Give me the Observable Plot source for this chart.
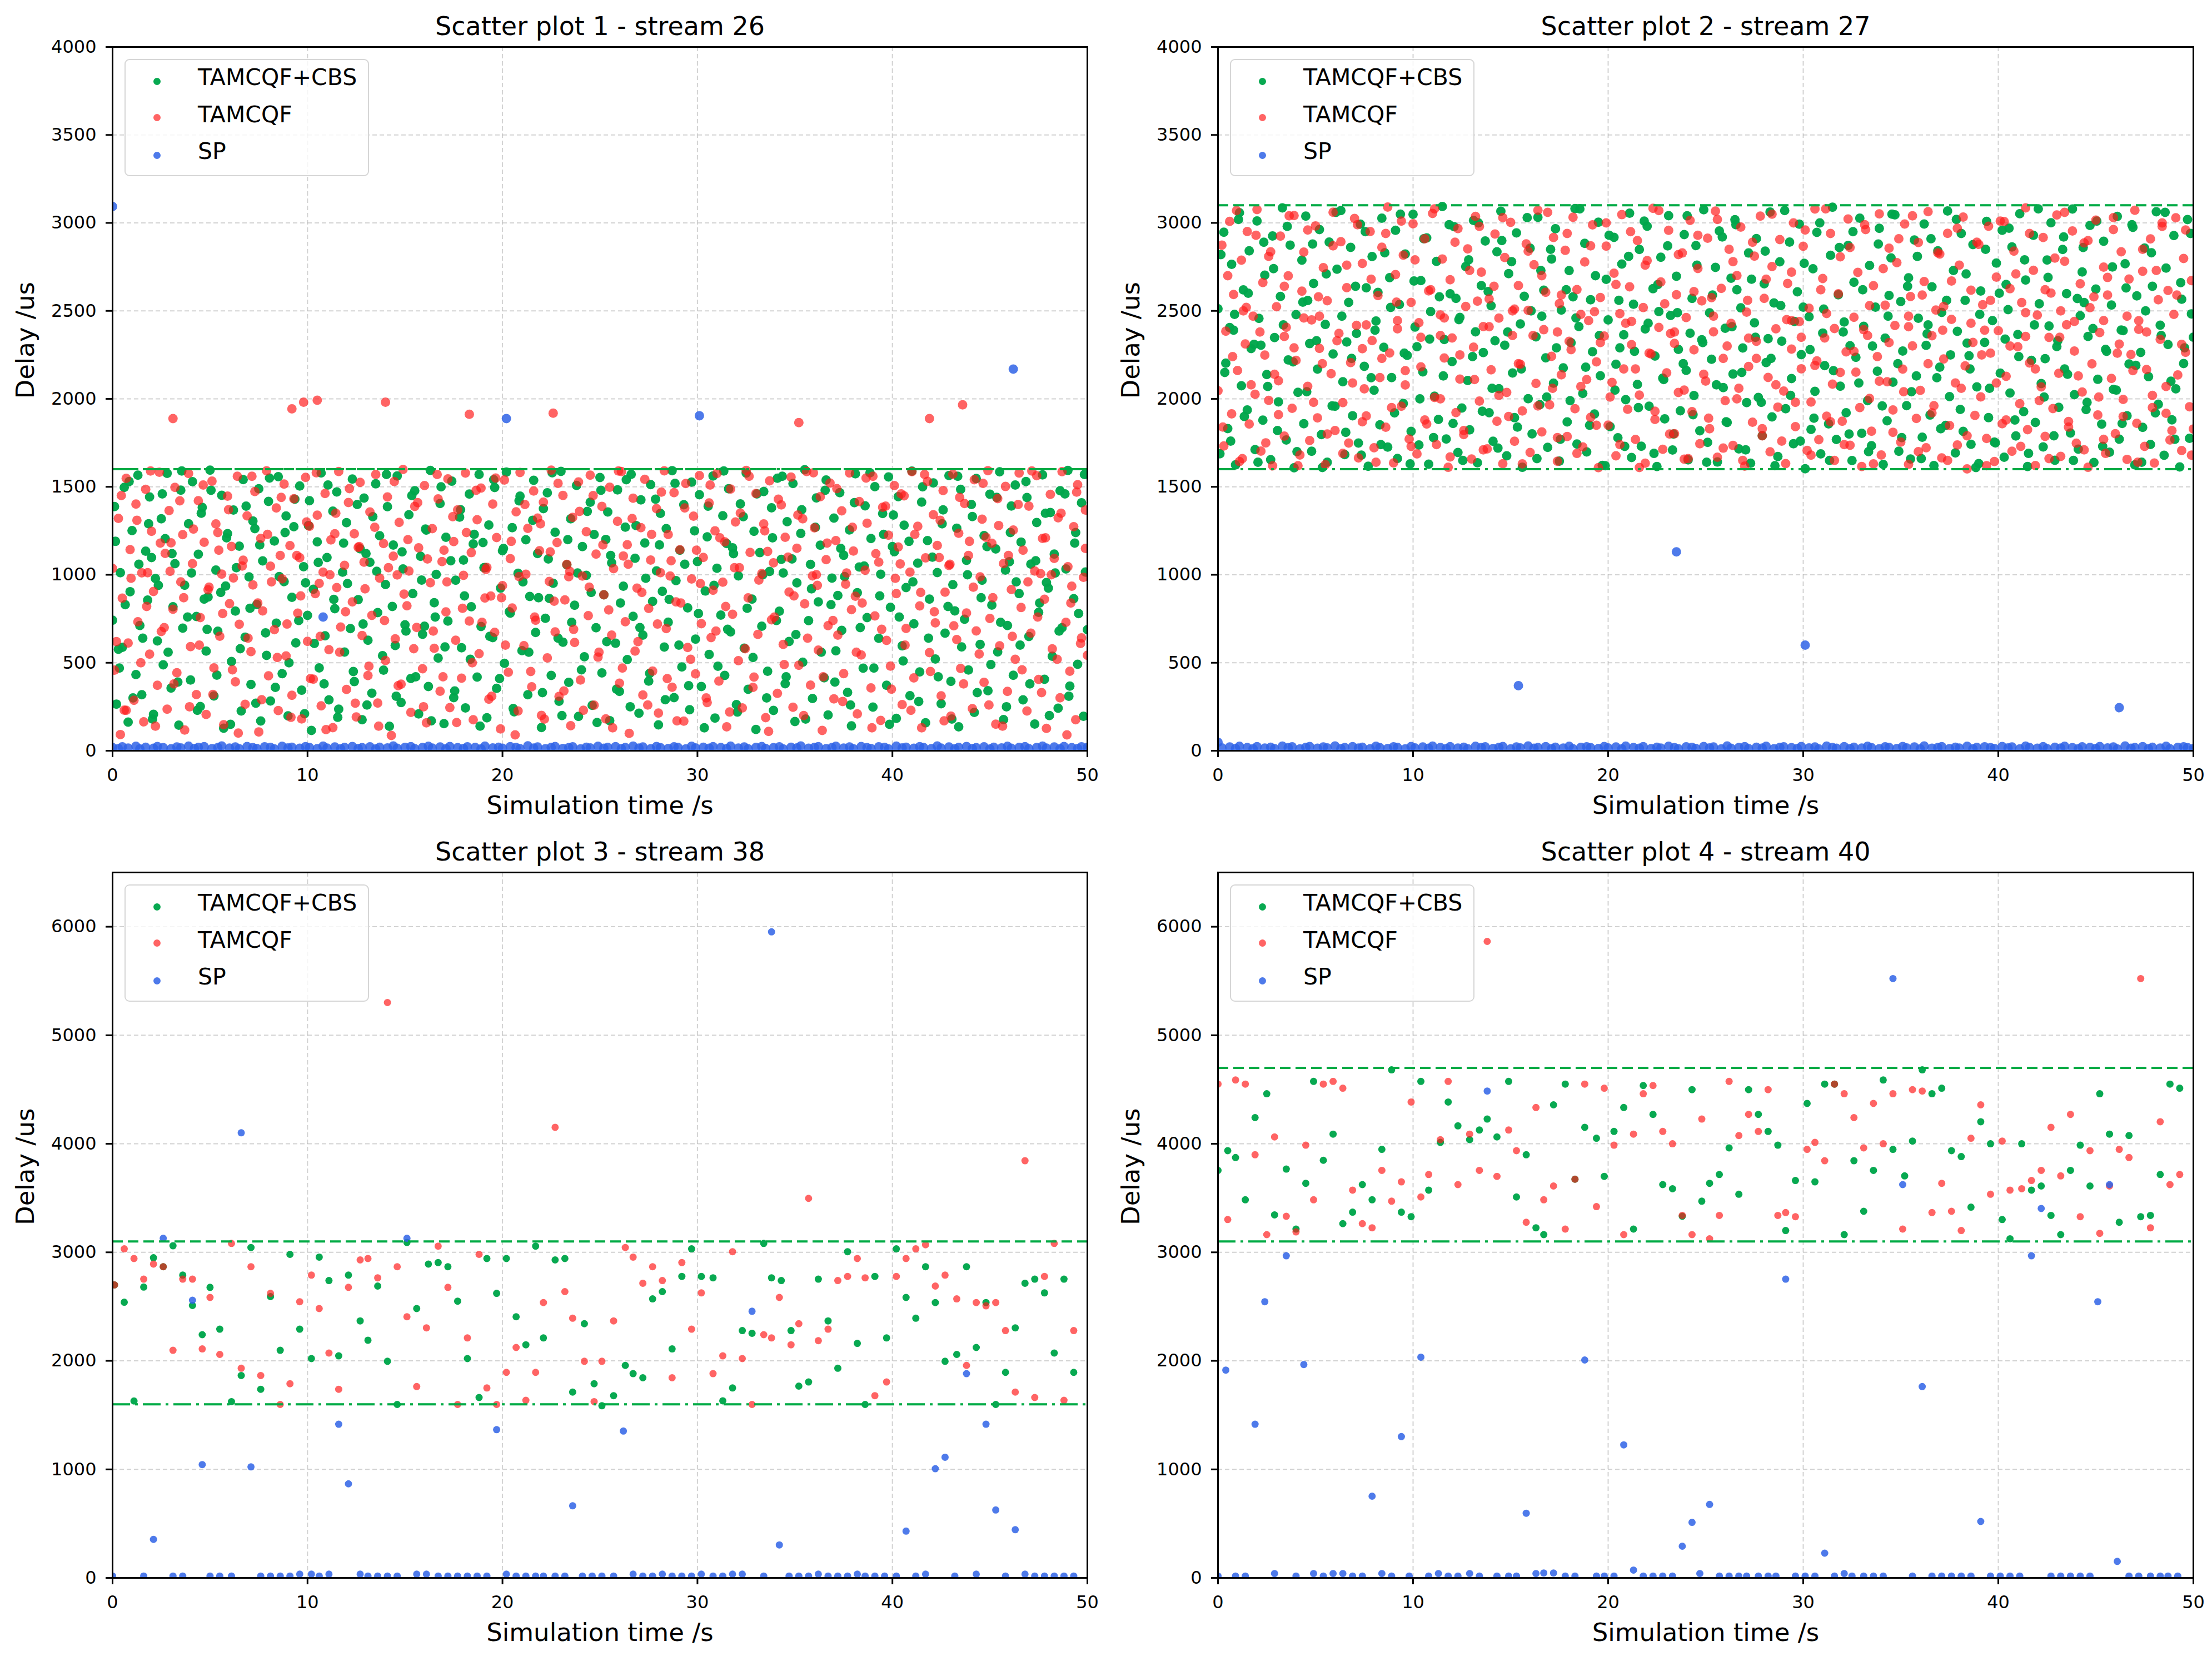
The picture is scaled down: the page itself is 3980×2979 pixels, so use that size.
<!DOCTYPE html>
<html><head><meta charset="utf-8">
<script src="https://cdn.jsdelivr.net/npm/d3@7"></script>
<script src="https://cdn.jsdelivr.net/npm/@observablehq/plot@0.6"></script>
<style>
html,body{margin:0;padding:0;background:#fff;}
#fig{position:relative;width:3980px;height:2979px;background:#fff;font-family:"DejaVu Sans",sans-serif;overflow:hidden;}
.panel{position:absolute;width:1990px;height:1489px;}
.legend{position:absolute;width:436px;height:207px;border:2px solid #d6d6d6;border-radius:9px;background:rgba(255,255,255,0.8);}
.legend .sw{position:absolute;width:13px;height:13px;border-radius:50%;}
.legend .lb{position:absolute;font-size:41px;line-height:41px;color:#000;white-space:nowrap;font-family:"DejaVu Sans",sans-serif;}
</style></head><body><div id="fig"></div>
<script>
// ---------- labels, ticks, series ----------
const seriesNames = ["TAMCQF+CBS", "TAMCQF", "SP"];
const titles = ["Scatter plot 1 - stream 26", "Scatter plot 2 - stream 27", "Scatter plot 3 - stream 38", "Scatter plot 4 - stream 40"];
const xLabel = "Simulation time /s";
const yLabel = "Delay /us";
const xTicks = [0, 10, 20, 30, 40, 50];
const yTicksTop = [0, 500, 1000, 1500, 2000, 2500, 3000, 3500, 4000];
const yTicksBottom = [0, 1000, 2000, 3000, 4000, 5000, 6000];
const yMaxTop = 4000, yMaxBottom = 6500;
// bounds: [dashed upper line, dash-dot lower line]
const bounds1 = [1600, 1600];
const bounds2 = [3100, 1600];
const bounds3 = [3100, 1600];
const bounds4 = [4700, 3100];

// ---------- data: flat [time s, delay us, ...] ----------
const p1Green = [0.0,742,0.1,1388,0.2,265,0.4,1012,0.5,588,0.6,1497,0.8,163,0.9,904,1.0,1251,1.2,433,
1.3,1566,1.4,712,1.5,318,1.7,1134,1.8,856,1.9,1442,2.1,207,2.2,979,2.3,624,2.5,1318,
2.6,488,2.7,1205,2.8,1577,3.0,356,3.1,818,3.2,1063,3.4,145,3.5,1481,3.6,697,3.7,941,
3.9,1290,4.0,402,4.1,1529,4.3,763,4.4,1117,4.5,251,4.6,1383,4.8,566,4.9,874,5.0,1595,
5.2,311,5.3,1027,5.4,679,5.6,1452,5.7,128,5.8,936,5.9,1234,6.1,507,6.2,1368,6.3,794,
6.5,1163,6.6,226,6.7,1541,6.8,645,7.0,988,7.1,377,7.2,1306,7.4,831,7.5,1489,7.6,169,
7.7,1079,7.9,542,8.0,1417,8.1,283,8.3,1192,8.4,725,8.5,1558,8.7,438,8.8,961,8.9,1334,
9.0,198,9.2,872,9.3,1273,9.4,613,9.6,1505,9.7,344,9.8,1046,10.0,769,10.1,1421,10.2,115,
10.3,918,10.5,1187,10.6,471,10.7,1579,10.9,653,11.0,1098,11.1,289,11.3,1362,11.4,807,11.5,1471,
11.6,236,11.8,1015,11.9,561,12.0,1296,12.2,694,12.3,1544,12.4,393,12.6,859,12.7,1148,12.8,176,
12.9,1436,13.1,628,13.2,1071,13.3,327,13.5,1517,13.6,785,13.7,1222,13.9,458,14.0,945,14.1,1387,
14.2,139,14.4,1169,14.5,598,14.6,1562,14.8,274,14.9,1033,15.0,716,15.2,1341,15.3,411,15.4,893,
15.5,1478,15.7,209,15.8,1105,15.9,662,16.1,1254,16.2,365,16.3,1593,16.5,841,16.6,1002,16.7,527,
16.8,1405,17.0,154,17.1,1213,17.2,737,17.4,1532,17.5,302,17.6,969,17.8,1328,17.9,585,18.0,1084,
18.1,243,18.3,1459,18.4,818,18.5,1175,18.7,419,18.8,1570,18.9,706,19.1,1041,19.2,187,19.3,1283,
19.5,643,19.6,1496,19.7,355,19.9,924,20.0,1137,20.1,497,20.2,1584,20.4,782,20.5,1268,20.6,221,
20.8,1009,20.9,1447,21.0,569,21.2,1199,21.3,318,21.4,877,21.6,1537,21.7,672,21.8,1121,22.0,132,
22.1,1376,22.2,753,22.3,1466,22.5,428,22.6,952,22.7,1242,22.9,281,23.0,1588,23.1,617,23.3,1057,
23.4,389,23.5,1318,23.7,827,23.8,1508,23.9,195,24.1,1160,24.2,534,24.3,997,24.5,1412,24.6,258,
24.7,1229,24.8,699,25.0,1553,25.1,442,25.2,886,25.4,1357,25.5,171,25.6,1068,25.8,611,25.9,1483,
26.0,337,26.2,935,26.3,1271,26.4,518,26.6,1571,26.7,764,26.8,1094,27.0,213,27.1,1426,27.2,657,
27.3,1181,27.5,396,27.6,1513,27.7,848,27.9,1022,28.0,147,28.1,1349,28.3,589,28.4,1262,28.5,731,
28.7,1592,28.8,302,28.9,967,29.1,1140,29.2,476,29.3,1398,29.5,812,29.6,233,29.7,1527,29.9,634,
30.0,1075,30.1,1455,30.2,365,30.4,908,30.5,1216,30.6,547,30.8,1562,30.9,186,31.0,1037,31.2,771,
31.3,1336,31.4,428,31.6,1489,31.7,675,31.8,1153,32.0,262,32.1,994,32.2,1403,32.4,583,32.5,1578,
32.6,349,32.8,862,32.9,1247,33.0,121,33.2,1126,33.3,708,33.4,1473,33.6,452,33.7,1019,33.8,1381,
33.9,229,34.1,1549,34.2,793,34.3,1088,34.5,381,34.6,1302,34.7,621,34.9,1519,35.0,166,35.1,954,
35.3,1235,35.4,503,35.5,1597,35.7,739,35.8,1059,35.9,297,36.1,1437,36.2,846,36.3,1168,36.5,415,
36.6,1539,36.7,203,36.9,981,37.0,1322,37.1,568,37.3,1467,37.4,684,37.5,1111,37.7,332,37.8,1255,
37.9,141,38.1,1574,38.2,898,38.3,1044,38.5,469,38.6,1392,38.7,757,38.9,1206,39.0,248,39.1,1501,
39.3,639,39.4,1003,39.5,1348,39.7,372,39.8,1556,39.9,815,40.1,1131,40.2,184,40.3,1444,40.5,596,
40.6,1282,40.7,927,40.9,313,41.0,1589,41.1,721,41.3,1066,41.4,448,41.5,1413,41.7,159,41.8,1194,
41.9,862,42.1,1522,42.2,521,42.3,1013,42.5,267,42.6,1369,42.7,668,42.9,1564,43.0,394,43.1,944,
43.3,1265,43.4,136,43.5,1486,43.7,747,43.8,1082,43.9,459,44.1,1331,44.2,218,44.3,1547,44.5,604,
44.6,969,44.7,1223,44.9,341,45.0,1458,45.1,828,45.3,1147,45.4,562,45.5,1585,45.7,177,45.8,1027,
45.9,712,46.1,1391,46.2,429,46.3,1510,46.5,893,46.6,1186,46.7,289,46.9,1439,47.0,649,47.1,1061,
47.3,152,47.4,1297,47.5,787,47.7,1568,47.8,406,47.9,956,48.1,1354,48.2,537,48.3,1118,48.5,242,
48.6,1478,48.7,699,48.9,1033,49.0,1593,49.1,367,49.3,864,49.4,1240,49.5,491,49.7,1409,49.8,196,
49.9,1016,0.3,577,2.0,1098,4.7,862,7.3,1262,9.9,954,13.0,1121,16.0,708,19.0,1183,22.4,866,
25.3,1201,28.2,906,31.5,1178,34.4,1010,37.2,882,40.0,1160,43.2,795,46.0,1074,48.0,924,50.0,688];
const p1GreenMore = [0.15,1190,0.35,470,0.65,830,0.85,1530,1.05,300,1.35,1060,1.55,640,1.85,1290,2.05,180,2.35,940,
2.55,1460,2.85,560,3.05,1120,3.35,390,3.55,1590,3.85,760,4.05,1010,4.35,230,4.55,1350,4.85,690,
5.05,1480,5.35,430,5.55,900,5.85,1210,6.05,150,6.35,1040,6.55,580,6.85,1390,7.05,810,7.35,270,
7.55,1170,7.85,670,8.05,1550,8.35,360,8.55,990,8.85,1240,9.05,500,9.35,1430,9.55,740,9.85,210,
10.05,1280,10.35,610,10.55,1070,10.85,380,11.05,1510,11.35,860,11.55,190,11.85,1180,12.05,950,12.35,450,
12.55,1400,12.85,720,13.05,260,13.35,1330,13.55,1020,13.85,540,14.05,1570,14.35,820,14.55,310,14.85,1130,
15.05,680,15.35,1450,15.55,420,15.85,970,16.05,1260,16.35,170,16.55,760,16.85,1500,17.05,590,17.35,1080,
17.55,340,17.85,1370,18.05,880,18.35,520,18.55,1230,18.85,140,19.05,1040,19.35,650,19.55,1540,19.85,410,
20.05,1150,20.35,790,20.55,240,20.85,1420,21.05,960,21.35,560,21.55,1310,21.85,870,22.05,330,22.35,1090,
22.55,1580,22.85,640,23.05,200,23.35,1200,23.55,730,23.85,1010,24.05,460,24.35,1360,24.55,900,24.85,160,
25.05,1480,25.35,620,25.55,1110,25.85,350,26.05,840,26.35,1540,26.55,250,26.85,1280,27.05,700,27.35,980,
27.55,440,27.85,1430,28.05,1170,28.35,290,28.55,860,28.85,1520,29.05,600,29.35,1060,29.55,370,29.85,1250,
30.05,780,30.35,130,30.55,1390,30.85,940,31.05,480,31.35,1590,31.55,690,31.85,1120,32.05,220,32.35,1330,
32.55,810,32.85,530,33.05,1460,33.35,1000,33.55,300,33.85,1210,34.05,740,34.35,1560,34.55,420,34.85,1090,
35.05,660,35.35,1370,35.55,180,35.85,920,36.05,1270,36.35,560,36.55,1480,36.85,830,37.05,390,37.35,1150,
37.55,990,37.85,260,38.05,1410,38.35,700,38.55,1050,38.85,1580,39.05,470,39.35,880,39.55,1230,39.85,150,
40.05,1340,40.35,760,40.55,510,40.85,1190,41.05,960,41.35,280,41.55,1500,41.85,640,42.05,1100,42.35,420,
42.55,1290,42.85,820,43.05,180,43.35,1560,43.55,590,43.85,1000,44.05,1400,44.35,330,44.55,870,44.85,1160,
45.05,490,45.35,1440,45.55,730,45.85,250,46.05,1240,46.35,960,46.55,600,46.85,1530,47.05,380,47.35,1080,
47.55,840,47.85,1350,48.05,200,48.35,1010,48.55,680,48.85,1460,49.05,310,49.35,1180,49.55,780,49.85,1570];

const p1Red = [0.0,1036,0.1,458,0.3,1321,0.4,92,0.5,867,0.7,1548,0.8,612,0.9,1143,1.1,287,1.2,1402,
1.3,733,1.5,1011,1.6,164,1.7,1486,1.9,549,2.0,1247,2.1,905,2.3,372,2.4,1583,2.5,678,
2.7,1122,2.8,236,2.9,1365,3.1,804,3.2,1497,3.3,443,3.5,960,3.6,1228,3.7,118,3.9,1576,
4.0,592,4.1,1063,4.3,319,4.4,1421,4.5,757,4.7,1185,4.8,206,4.9,915,5.1,1532,5.2,471,
5.3,1289,5.5,651,5.6,1004,5.7,148,5.9,1447,6.0,836,6.1,1161,6.3,392,6.4,1560,6.5,719,
6.7,1083,6.8,264,6.9,1335,7.1,563,7.2,942,7.3,1473,7.5,107,7.6,1207,7.7,795,7.9,1591,
8.0,426,8.1,1049,8.3,688,8.4,1380,8.5,228,8.7,977,8.8,1516,8.9,539,9.1,1166,9.2,315,
9.3,1432,9.5,782,9.6,1097,9.7,181,9.9,1554,10.0,622,10.1,1276,10.3,407,10.4,893,10.5,1339,
10.7,255,10.8,1015,10.9,1462,11.1,574,11.2,1198,11.3,131,11.5,927,11.6,1587,11.7,703,11.9,1054,
12.0,348,12.1,1411,12.3,846,12.4,1233,12.5,192,12.7,1525,12.8,655,12.9,1072,13.1,427,13.2,1357,
13.3,769,13.5,1570,13.6,271,13.7,981,13.9,1178,14.0,513,14.1,1442,14.3,87,14.4,1106,14.5,636,
14.7,1298,14.8,378,14.9,1599,15.1,824,15.2,1021,15.3,218,15.5,1389,15.6,701,15.7,1153,15.9,466,
16.0,1507,16.1,159,16.3,955,16.4,1262,16.5,582,16.7,1431,16.8,338,16.9,1075,17.1,789,17.2,1545,
17.3,245,17.5,1189,17.6,628,17.7,1369,17.9,412,18.0,997,18.1,1578,18.3,737,18.4,1126,18.5,176,
18.7,1313,18.8,551,18.9,1493,19.1,868,19.2,1042,19.3,293,19.5,1402,19.6,673,19.7,1212,19.9,124,
20.0,938,20.1,1539,20.3,446,20.4,1092,20.5,811,20.7,1358,20.8,226,20.9,1581,21.1,597,21.2,1003,
21.3,1264,21.5,363,21.6,1476,21.7,742,21.9,1137,22.0,201,22.1,1413,22.3,528,22.4,962,22.5,1595,
22.7,675,22.8,1183,22.9,309,23.1,1451,23.2,857,23.3,1059,23.5,142,23.6,1326,23.7,615,23.9,1528,
24.0,402,24.1,993,24.3,1245,24.4,768,24.5,1566,24.7,259,24.8,1118,24.9,532,25.1,1389,25.2,886,
25.3,181,25.5,1498,25.6,657,25.7,1035,25.9,1304,26.0,384,26.1,1587,26.3,733,26.4,1171,26.5,99,
26.7,1435,26.8,566,26.9,924,27.1,1268,27.2,317,27.3,1543,27.5,809,27.6,1084,27.7,453,27.9,1376,
28.0,214,28.1,1012,28.3,1591,28.4,694,28.5,1229,28.7,361,28.8,1467,28.9,846,29.1,1142,29.3,168,
29.4,1519,29.5,587,29.7,976,29.8,1333,29.9,437,30.1,1564,30.2,722,30.3,1099,30.5,274,30.6,1408,
30.7,643,30.9,1250,31.0,1576,31.1,396,31.3,958,31.4,1187,31.5,136,31.7,1487,31.8,776,31.9,1040,
32.1,512,32.2,1351,32.3,243,32.5,1593,32.6,869,32.7,1127,32.9,419,33.0,1462,33.1,661,33.3,1007,
33.4,1289,33.5,188,33.7,1534,33.8,744,33.9,1068,34.1,326,34.3,1397,34.4,604,34.5,1213,34.7,902,
34.8,1555,34.9,247,35.1,1151,35.2,486,35.4,1318,35.5,835,35.6,1587,35.8,373,35.9,994,36.0,1267,
36.2,572,36.3,1444,36.4,115,36.6,1086,36.7,711,36.8,1521,37.0,295,37.1,1194,37.2,657,37.4,1363,
37.5,438,37.6,947,37.8,1579,37.9,802,38.0,1135,38.2,209,38.3,1416,38.4,544,38.6,1026,38.7,1293,
38.9,357,39.0,1560,39.1,766,39.3,1072,39.4,172,39.5,1384,39.7,627,39.8,1225,39.9,481,40.1,1507,
40.2,893,40.3,1158,40.5,262,40.6,1449,40.7,695,40.9,1015,41.0,1586,41.1,414,41.3,1276,41.4,823,
41.5,130,41.7,1096,41.8,1531,41.9,558,42.1,1341,42.2,727,42.3,1167,42.5,312,42.6,1479,42.7,901,
42.9,1053,43.0,197,43.1,1572,43.3,632,43.4,1236,43.5,468,43.7,1405,43.8,783,43.9,1110,44.1,239,
44.2,1540,44.3,681,44.5,988,44.6,1316,44.7,389,44.9,1592,45.0,752,45.1,1179,45.3,151,45.4,1433,
45.5,596,45.7,1064,45.8,1502,45.9,337,46.1,916,46.2,1254,46.3,520,46.5,1578,46.6,814,46.7,1140,
46.9,226,47.0,1390,47.1,668,47.3,1021,47.4,1563,47.5,405,47.7,1207,47.8,861,47.9,127,48.1,1457,
48.2,579,48.3,1093,48.5,1324,48.6,301,48.7,1586,48.9,730,49.0,1046,49.1,452,49.3,1273,49.4,176,
49.5,1512,49.7,641,49.8,986,49.9,1368,50.0,543,0.6,231,1.8,1012,3.0,1182,5.4,1240,6.2,982,
8.6,1110,10.6,951,12.6,1156,14.6,999,17.0,1140,19.4,879,21.8,1322,23.4,989,26.2,1107,28.6,993,
30.8,912,33.6,1133,36.1,1001,38.1,878,40.4,1062,42.4,1098,44.8,1213,47.6,1006,49.2,935,11.4,1233,
3.1,1888,9.2,1943,9.8,1981,10.5,1992,14.0,1981,18.3,1912,22.6,1919,35.2,1865,41.9,1888,43.6,1966];
const p1RedMore = [0.2,620,0.45,1450,0.7,230,0.95,980,1.25,1310,1.45,500,1.75,820,1.95,1590,2.2,140,2.45,1180,
2.65,700,2.95,1020,3.15,380,3.45,1420,3.65,870,3.95,250,4.15,1260,4.45,600,4.65,1510,4.95,930,
5.15,320,5.45,1140,5.65,780,5.95,1370,6.15,460,6.45,100,6.65,1050,6.95,640,7.15,1560,7.45,840,
7.65,290,7.95,1230,8.15,960,8.45,530,8.65,1440,8.95,720,9.15,190,9.45,1110,9.65,880,9.95,1300,
10.15,410,10.45,1580,10.65,650,10.95,120,11.15,1000,11.45,1350,11.65,560,11.95,790,12.15,1490,12.45,270,
12.65,1160,12.95,920,13.15,480,13.45,1270,13.65,140,13.95,740,14.15,1040,14.45,1530,14.65,370,14.95,890,
15.15,1200,15.45,580,15.65,1410,15.95,250,16.15,1090,16.45,680,16.65,1570,16.95,420,17.15,960,17.45,1330,
17.65,160,17.95,810,18.15,1240,18.45,500,18.65,1480,18.95,730,19.15,1030,19.45,310,19.65,1550,19.95,870,
20.15,600,20.45,1190,20.65,90,20.85,990,21.15,1400,21.45,450,21.65,760,21.95,1290,22.15,180,22.45,1130,
22.65,850,22.85,1520,23.15,340,23.45,1020,23.65,690,23.95,1360,24.15,230,24.45,930,24.65,1450,24.95,560,
25.15,1170,25.45,800,25.65,130,25.95,1590,26.15,470,26.45,1060,26.65,1320,26.95,620,27.15,900,27.45,260,
27.65,1230,27.95,720,28.15,1470,28.45,410,28.65,1080,28.95,170,29.15,840,29.35,1380,29.65,520,29.95,1140,
30.15,950,30.45,300,30.65,1510,30.95,680,31.15,1210,31.45,820,31.65,220,31.95,1300,32.15,1040,32.45,580,
32.65,1560,32.85,360,33.15,970,33.45,1250,33.65,110,33.95,760,34.15,1430,34.45,490,34.65,1100,34.95,880,
35.15,1340,35.45,200,35.65,640,35.95,1580,36.15,940,36.45,420,36.65,1180,36.95,740,37.15,1490,37.45,280,
37.65,1010,37.95,1270,38.15,560,38.45,840,38.65,1550,38.95,130,39.15,1120,39.45,690,39.65,1390,39.95,350,
40.15,980,40.45,1460,40.65,600,40.95,230,41.15,1230,41.45,900,41.65,1570,41.95,450,42.15,790,42.45,1310,
42.65,170,42.95,1060,43.15,710,43.45,1440,43.65,380,43.95,1190,44.15,930,44.45,550,44.65,1520,44.95,260,
45.15,870,45.45,1280,45.65,140,45.95,1110,46.15,650,46.45,1400,46.65,460,46.95,960,47.15,1590,47.45,760,
47.65,330,47.85,1210,48.15,1000,48.45,520,48.65,1350,48.95,90,49.15,840,49.45,1470,49.65,610,49.9,1150];

const p1Blue = [0.0,3093,10.8,760,20.2,1888,30.1,1904,46.2,2169,
0.0,18,0.3,12,0.5,22,0.8,15,1.2,25,1.4,10,1.7,20,2.1,14,2.3,24,2.6,17,3.0,11,3.3,21,3.5,16,3.9,26,4.2,13,4.4,19,4.7,23,5.1,12,5.4,18,5.6,27,
6.0,15,6.3,21,6.5,11,6.9,24,7.2,17,7.4,13,7.8,22,8.1,19,8.3,10,8.7,25,9.0,16,9.2,20,9.6,14,9.9,23,10.1,18,10.5,12,10.8,26,11.0,15,11.4,21,11.7,11,
11.9,19,12.3,24,12.6,13,12.8,17,13.2,22,13.5,10,13.7,20,14.1,16,14.4,27,14.6,14,15.0,19,15.3,23,15.5,12,15.9,18,16.2,25,16.4,15,16.8,21,17.1,11,17.3,24,17.7,17,
18.0,13,18.2,22,18.6,19,18.9,10,19.1,26,19.5,16,19.8,20,20.0,14,20.4,23,20.7,18,20.9,12,21.3,28,21.6,15,21.8,21,22.2,11,22.5,19,22.7,24,23.1,13,23.4,17,23.6,22,
24.0,10,24.3,20,24.5,16,24.9,25,25.2,14,25.4,19,25.8,23,26.1,12,26.3,18,26.7,26,27.0,15,27.2,21,27.6,11,27.9,24,28.1,17,28.5,13,28.8,22,29.0,19,29.4,10,29.7,25,
29.9,16,30.3,20,30.6,14,30.8,23,31.2,18,31.5,12,31.7,26,32.1,15,32.4,21,32.6,11,33.0,19,33.3,24,33.5,13,33.9,17,34.2,22,34.4,10,34.8,20,35.1,16,35.3,27,35.7,14,
36.0,19,36.2,23,36.6,12,36.9,18,37.1,25,37.5,15,37.8,21,38.0,11,38.4,24,38.7,17,38.9,13,39.3,22,39.6,19,39.8,10,40.2,26,40.5,16,40.7,20,41.1,14,41.4,23,41.6,18,
42.0,12,42.3,27,42.5,15,42.9,21,43.2,11,43.4,19,43.8,24,44.1,13,44.3,17,44.7,22,45.0,10,45.2,20,45.6,16,45.9,25,46.1,14,46.5,19,46.8,23,47.0,12,47.4,18,47.7,26,
47.9,15,48.3,21,48.6,11,48.8,24,49.2,17,49.5,13,49.7,22,50.0,19];

const p2Green = [0.0,2512,0.1,1688,0.3,2947,0.4,2203,0.5,1831,0.7,2765,0.8,2390,0.9,1625,1.1,3058,1.2,2074,
1.3,2619,1.5,1937,1.6,2841,1.7,2286,1.9,1712,2.0,3011,2.1,2457,2.3,1879,2.4,2703,2.5,2138,
2.7,1654,2.8,2926,2.9,2348,3.1,1983,3.2,2582,3.3,3085,3.5,1766,3.6,2221,3.7,2874,3.9,1608,
4.0,2479,4.1,2037,4.3,2788,4.4,1859,4.5,3039,4.7,2314,4.8,1702,4.9,2656,5.1,2169,5.2,2962,
5.3,1797,5.5,2423,5.6,1640,5.7,2891,5.9,2255,6.0,1958,6.1,2737,6.3,3070,6.4,2097,6.5,1683,
6.7,2548,6.8,2861,6.9,1904,7.1,2372,7.2,1749,7.3,2993,7.5,2185,7.6,2631,7.7,1617,7.9,2809,
8.0,2049,8.1,2442,8.3,1852,8.4,3027,8.5,2293,8.7,1726,8.8,2689,8.9,2121,9.1,2958,9.2,1661,
9.3,2536,9.5,1974,9.6,2823,9.7,2247,9.9,1815,10.0,3049,10.1,2408,10.3,1738,10.4,2672,10.5,2153,
10.7,2915,10.8,1629,10.9,2496,11.1,2015,11.2,2781,11.3,1883,11.5,3093,11.6,2337,11.7,1772,11.9,2597,
12.0,2212,12.1,2979,12.3,1695,12.4,2463,12.5,1948,12.7,2752,12.8,2104,12.9,1824,13.1,3014,13.2,2381,
13.3,1637,13.5,2644,13.6,2263,13.7,2897,13.9,1921,14.0,2529,14.1,1759,14.3,2836,14.4,2058,14.5,3066,
14.7,2305,14.8,1676,14.9,2712,15.1,2147,15.2,1893,15.3,2943,15.5,2426,15.6,1611,15.7,2583,15.9,2001,
16.0,2856,16.1,1801,16.3,2352,16.4,3032,16.5,1967,16.7,2618,16.8,2233,16.9,1724,17.1,2795,17.2,2089,
17.3,2967,17.5,1646,17.6,2505,17.7,2176,17.9,1869,18.0,2729,18.1,2319,18.3,3081,18.4,1743,18.5,2411,
18.7,2031,18.8,2884,18.9,1698,19.1,2563,19.2,2268,19.3,1914,19.5,3004,19.6,2131,19.7,1622,19.9,2679,
20.0,2449,20.1,1842,20.3,2918,20.4,2197,20.5,1779,20.7,2766,20.8,2364,20.9,1995,21.1,3055,21.2,1667,
21.3,2538,21.5,2082,21.6,2849,21.7,1731,21.9,2397,22.0,2981,22.1,1958,22.3,2626,22.4,2243,22.5,1615,
22.7,2805,22.8,2118,22.9,1886,23.1,3041,23.2,2474,23.3,1709,23.5,2697,23.6,2281,23.7,1932,23.9,2934,
24.0,2162,24.1,1653,24.3,2571,24.4,2019,24.5,2871,24.7,1818,24.8,2336,24.9,3075,25.1,1753,25.2,2489,
25.3,2225,25.5,2747,25.6,1641,25.7,2954,25.9,2064,26.0,2401,26.1,1866,26.3,2686,26.4,2141,26.5,3018,
26.7,1716,26.8,2517,26.9,2289,27.1,1979,27.2,2829,27.3,1634,27.5,2432,27.6,2911,27.7,2008,27.9,1791,
28.0,2654,28.1,2206,28.3,3062,28.4,1897,28.5,2545,28.7,1672,28.8,2779,28.9,2328,29.1,1944,29.3,2891,
29.4,2115,29.5,1745,29.7,2608,29.8,2993,29.9,2251,30.1,1603,30.3,2467,30.4,1826,30.5,2739,30.6,2043,
30.7,2946,30.9,1687,31.0,2374,31.1,2189,31.3,1858,31.4,2816,31.5,3089,31.7,1769,31.8,2592,31.9,2072,
32.1,2437,32.2,1921,32.3,2872,32.5,1649,32.6,2663,32.7,2236,32.9,3027,33.0,1804,33.1,2412,33.3,1990,
33.4,2758,33.5,1734,33.7,2521,33.8,2157,33.9,2969,34.1,1627,34.2,2345,34.3,1875,34.5,2801,34.6,2095,
34.7,3046,34.9,1702,35.0,2553,35.1,2272,35.3,1961,35.4,2688,35.5,1658,35.7,2903,35.8,2130,35.9,2458,
36.1,1782,36.2,2994,36.3,2304,36.5,1908,36.6,2637,36.7,1621,36.9,2841,37.0,2180,37.1,2491,37.3,1849,
37.4,3068,37.5,2013,37.7,2730,37.8,1693,37.9,2384,38.1,2940,38.2,1815,38.3,2560,38.5,2245,38.6,1742,
38.7,2877,38.9,2068,39.0,1632,39.1,2613,39.3,2321,39.4,3009,39.5,1893,39.7,2445,39.8,1754,39.9,2772,
40.1,2146,40.2,2958,40.3,1668,40.5,2507,40.6,2033,40.7,2863,40.9,1789,41.0,2366,41.1,3052,41.3,1927,
41.4,2675,41.5,1615,41.7,2219,41.8,2930,41.9,1866,42.1,2540,42.2,2087,42.3,1727,42.5,2789,42.6,2414,
42.7,3001,42.9,1651,43.0,2297,43.1,1952,43.3,2849,43.4,2170,43.5,2598,43.7,1806,43.8,3079,43.9,2024,
44.1,1714,44.2,2472,44.3,2721,44.5,1939,44.6,2355,44.7,2986,44.9,1638,45.0,2624,45.1,2111,45.3,1856,
45.4,2896,45.5,2281,45.7,1697,45.8,2533,45.9,2054,46.1,3037,46.2,1771,46.3,2391,46.5,2768,46.6,1904,
46.7,2198,46.9,2975,47.0,1625,47.1,2585,47.3,2264,47.4,1838,47.5,2857,47.7,2126,47.8,1741,47.9,2640,
48.1,3063,48.2,1969,48.3,2419,48.5,1679,48.6,2743,48.7,2309,48.9,1881,49.0,2928,49.1,2057,49.3,1613,
49.4,2566,49.5,2201,49.7,3019,49.8,1776,49.9,2483,50.0,2351,0.6,2405,2.2,2305,4.6,2559,6.6,2323,
8.2,2605,10.2,2296,12.2,2571,14.2,2330,16.6,2470,18.2,2580,20.6,2290,22.6,2496,24.2,2373,26.6,2620,
28.2,2342,30.0,2521,32.4,2302,34.4,2588,36.4,2420,38.4,2317,40.4,2650,42.4,2228,44.4,2547,46.4,2388];
const p2GreenMore = [0.15,2820,0.35,2150,0.65,1760,0.85,2480,1.05,3020,1.35,1900,1.55,2600,1.85,2310,2.05,1640,2.35,2890,
2.55,2070,2.85,2740,3.05,1820,3.35,2420,3.55,2980,3.85,2210,4.05,1700,4.35,2550,4.55,2040,4.85,2880,
5.05,2330,5.35,1610,5.55,2710,5.85,1960,6.05,3060,6.35,2470,6.55,1810,6.85,2230,7.05,2640,7.35,1680,
7.55,2950,7.85,2120,8.05,2390,8.35,1740,8.55,2830,8.85,2520,9.05,1920,9.35,3050,9.55,2260,9.85,1630,
10.05,2670,10.35,2000,10.55,2910,10.85,2340,11.05,1780,11.35,2580,11.55,2130,11.85,2990,12.05,1860,12.35,2450,
12.55,1650,12.85,2790,13.05,2240,13.35,3000,13.55,1930,13.85,2610,14.05,2060,14.35,1720,14.55,2900,14.85,2380,
15.05,2780,15.35,1840,15.55,2170,15.85,3030,16.05,2500,16.35,1660,16.55,2730,16.85,2010,17.05,2850,17.35,2290,
17.55,1770,17.85,2620,18.05,1990,18.35,2460,18.55,3080,18.85,2180,19.05,1850,19.35,2700,19.55,2360,19.85,1620,
20.05,2930,20.35,2050,20.55,2560,20.85,1730,21.05,2810,21.35,2270,21.55,1950,21.85,3010,22.05,2430,22.35,1690,
22.55,2650,22.85,2110,23.05,2870,23.35,1800,23.55,2490,23.85,2200,24.05,3040,24.35,1910,24.55,2760,24.85,2320,
25.05,1640,25.35,2590,25.55,2080,25.85,2920,26.05,1870,26.35,2410,26.55,2990,26.85,2150,27.05,1710,27.35,2680,
27.55,2350,27.85,1980,28.05,2840,28.35,2230,28.55,1620,28.85,2530,29.05,3070,29.35,2020,29.55,2440,29.85,1760,
30.05,2770,30.35,2280,30.55,1890,30.85,3000,31.05,2510,31.35,1650,31.55,2160,31.85,2860,32.05,2380,32.35,1800,
32.55,2950,32.85,2090,33.05,2620,33.35,1700,33.55,2300,33.85,2880,34.05,1960,34.35,2470,34.55,3050,34.85,2200,
35.05,1780,35.35,2640,35.55,2040,35.85,2810,36.05,1660,36.35,2370,36.55,2910,36.85,2120,37.05,1830,37.35,2560,
37.55,2250,37.85,3020,38.05,1940,38.35,2710,38.55,2170,38.85,1610,39.05,2480,39.35,2850,39.55,2060,39.85,1750,
40.05,2600,40.35,2340,40.55,2970,40.85,1880,41.05,2240,41.35,2790,41.55,1690,41.85,2420,42.05,3080,42.35,2010,
42.55,2690,42.85,1790,43.05,2330,43.35,2920,43.55,2140,43.85,1650,44.05,2570,44.35,2860,44.55,1980,44.85,2400,
45.05,3010,45.35,1730,45.55,2270,45.85,2750,46.05,2050,46.35,1860,46.55,2630,46.85,2990,47.05,2190,47.35,1640,
47.55,2500,47.85,2830,48.05,1920,48.35,2360,48.55,3060,48.85,2100,49.05,1770,49.35,2660,49.55,2290,49.85,2940];

const p2Red = [0.0,2046,0.2,2874,0.3,1732,0.4,2385,0.6,3009,0.7,1915,0.8,2593,1.0,2161,1.1,1644,1.2,2788,
1.4,2312,1.5,2951,1.6,1857,1.8,2470,1.9,2026,2.0,3076,2.2,1703,2.3,2661,2.4,2249,2.6,1991,
2.7,2836,2.8,1619,3.0,2524,3.1,2103,3.2,2925,3.4,1788,3.5,2407,3.6,2699,3.8,1946,3.9,3042,
4.0,2219,4.2,1681,4.3,2612,4.4,2834,4.6,2071,4.7,1763,4.8,2449,5.0,2983,5.1,1892,5.2,2287,
5.4,2746,5.5,1626,5.6,2558,5.8,2143,5.9,3061,6.0,1820,6.2,2372,6.3,2893,6.4,1979,6.6,2632,
6.7,1749,6.8,2206,7.0,3025,7.1,2418,7.2,1664,7.4,2769,7.5,2057,7.6,1903,7.8,2951,7.9,2331,
8.0,1722,8.2,2587,8.3,2121,8.4,2862,8.6,1839,8.7,3090,8.8,2261,9.0,1636,9.1,2706,9.2,2398,
9.4,1958,9.5,2817,9.6,2079,9.8,1772,9.9,2548,10.0,2995,10.2,1687,10.3,2433,10.4,2182,10.6,2910,
10.7,1857,10.8,2614,11.0,3054,11.1,2008,11.2,1740,11.4,2477,11.5,2795,11.6,2232,11.8,1611,11.9,2677,
12.0,2346,12.2,1922,12.3,2968,12.4,2112,12.6,1797,12.7,2525,12.8,2852,13.0,1658,13.1,2294,13.2,3037,
13.4,1987,13.5,2720,13.6,2411,13.8,1716,13.9,2568,14.0,2165,14.2,2937,14.3,1873,14.4,2459,14.6,1631,
14.7,2803,14.8,2036,15.0,3003,15.1,2360,15.2,1759,15.4,2644,15.5,2197,15.6,1931,15.8,2881,15.9,2503,
16.0,1695,16.2,2762,16.3,2088,16.4,3072,16.6,1812,16.7,2393,16.8,2606,17.0,1966,17.1,2242,17.2,2917,
17.4,1645,17.5,2541,17.6,2137,17.8,2844,17.9,1786,18.0,2327,18.2,3032,18.3,1944,18.4,2621,18.6,2070,
18.7,1727,18.8,2778,19.0,2445,19.1,1895,19.2,2989,19.4,2210,19.5,1609,19.6,2576,19.8,2357,19.9,2868,
20.0,1851,20.2,2093,20.3,2714,20.4,1676,20.6,2484,20.7,3047,20.8,2170,21.0,1941,21.1,2637,21.2,2308,
21.4,1769,21.5,2900,21.6,2021,21.8,2519,21.9,1634,22.0,2786,22.2,2255,22.3,3083,22.4,1883,22.6,2406,
22.7,2664,22.8,1713,23.0,2148,23.1,2958,23.2,2371,23.4,1802,23.5,2592,23.6,2036,23.8,2829,23.9,1657,
24.0,2462,24.2,3014,24.3,1927,24.4,2279,24.6,2741,24.7,1745,24.8,2557,25.0,2101,25.1,2913,25.2,1830,
25.4,2381,25.5,3067,25.6,1668,25.8,2628,25.9,2230,26.0,1990,26.2,2850,26.3,2429,26.4,1735,26.6,2701,
26.7,2060,26.8,2976,27.0,1618,27.1,2493,27.2,2184,27.4,1867,27.5,2811,27.6,2327,27.8,3039,27.9,1790,
28.0,2571,28.2,2122,28.3,1699,28.4,2752,28.6,2398,28.7,1953,28.8,2905,29.0,2044,29.1,1632,29.2,2656,
29.4,2283,29.5,3000,29.6,1842,29.8,2439,29.9,2171,30.0,2867,30.2,1707,30.3,2515,30.4,1982,30.6,3079,
30.7,2216,30.8,1768,31.0,2684,31.1,2346,31.2,1901,31.4,2940,31.5,2084,31.6,1650,31.8,2597,31.9,2807,
32.0,1873,32.2,2267,32.3,3022,32.4,1736,32.6,2464,32.7,2152,32.8,2719,33.0,1615,33.1,2393,33.2,2962,
33.4,2002,33.5,1816,33.6,2643,33.8,2240,33.9,3051,34.0,1681,34.2,2532,34.3,2097,34.4,2856,34.6,1937,
34.7,2417,34.8,2774,35.0,1754,35.1,2169,35.2,2994,35.4,1628,35.5,2581,35.6,2301,35.8,1889,35.9,2889,
36.0,2048,36.2,2667,36.3,1722,36.4,3064,36.6,2359,36.7,1961,36.8,2505,37.0,2823,37.1,1664,37.2,2227,
37.4,2941,37.5,1848,37.6,2452,37.8,2090,37.9,1738,38.0,2760,38.2,3033,38.3,2187,38.4,1602,38.6,2618,
38.7,2321,38.8,1906,39.0,2878,39.1,2011,39.2,2535,39.4,1775,39.5,2981,39.6,2260,39.8,1644,39.9,2692,
40.0,2387,40.2,1859,40.3,3008,40.4,2128,40.6,2626,40.7,1702,40.8,2840,41.0,2296,41.1,1972,41.2,2547,
41.4,3085,41.5,1825,41.6,2204,41.8,2731,41.9,1621,42.0,2476,42.2,2068,42.3,2917,42.4,1787,42.6,2349,
42.7,2601,42.8,1945,43.0,3045,43.1,2145,43.2,1673,43.4,2782,43.5,2421,43.6,1871,43.8,2954,43.9,2272,
44.0,1748,44.2,2654,44.3,2039,44.4,2886,44.6,1611,44.7,2518,44.8,2199,45.0,3016,45.1,1908,45.2,2377,
45.4,2749,45.5,1690,45.6,2590,45.8,2116,45.9,2962,46.0,1802,46.2,2311,46.3,2836,46.4,1997,46.6,1656,
46.7,2681,46.8,2252,47.0,3072,47.1,1861,47.2,2444,47.4,2725,47.5,1730,47.6,2167,47.8,2909,47.9,2020,
48.0,1635,48.2,2563,48.3,2338,48.4,2980,48.6,1918,48.7,2616,48.8,1766,49.0,2480,49.1,3029,49.2,2136,
49.4,1706,49.5,2798,49.6,2265,49.8,1955,49.9,2672,50.0,1829,1.3,2500,3.4,2355,5.2,2470,7.4,2285,
9.2,2445,11.4,2360,13.3,2555,15.2,2510,17.4,2380,19.3,2495,21.2,2440,23.4,2315,25.3,2575,27.2,2345,
29.4,2445,31.2,2485,33.3,2360,35.4,2410,37.2,2525,39.3,2390,41.4,2355,43.2,2500,45.4,2445,47.2,2395];
const p2RedMore = [0.25,1840,0.5,2700,0.75,2240,0.95,3070,1.25,1660,1.45,2520,1.7,2080,1.95,2930,2.15,2380,2.45,1750,
2.6,2810,2.9,2140,3.1,1910,3.4,2640,3.65,3040,3.9,2290,4.1,1620,4.4,2460,4.6,2960,4.9,1980,
5.15,2580,5.35,2200,5.6,1800,5.9,2870,6.1,2330,6.4,1690,6.6,2760,6.9,2090,7.15,2990,7.4,1870,
7.6,2420,7.85,2680,8.1,1640,8.4,2230,8.6,2940,8.9,1950,9.15,2550,9.4,3010,9.6,2160,9.9,1730,
10.1,2790,10.4,2350,10.6,1880,10.9,2620,11.1,3080,11.4,2000,11.6,2460,11.9,1670,12.15,2890,12.4,2250,
12.6,1820,12.9,2730,13.15,2110,13.4,2980,13.6,1710,13.9,2410,14.15,2640,14.4,2020,14.6,3030,14.9,1900,
15.1,2500,15.4,2200,15.6,1630,15.9,2840,16.15,2360,16.4,1960,16.6,2700,16.9,3060,17.15,2060,17.4,1780,
17.6,2590,17.9,2940,18.1,2280,18.4,1690,18.6,2480,18.9,2110,19.1,2870,19.4,1850,19.6,2320,19.9,3000,
20.1,2010,20.4,2650,20.6,1740,20.9,2430,21.15,2950,21.4,2170,21.6,1610,21.9,2760,22.1,2260,22.4,1930,
22.6,3070,22.9,2540,23.15,1800,23.4,2380,23.6,2820,23.9,2050,24.1,1660,24.4,2610,24.6,2930,24.9,2140,
25.15,1890,25.4,2470,25.6,3020,25.9,1720,26.1,2300,26.4,2780,26.6,2000,26.9,1650,27.15,2560,27.4,2890,
27.6,2230,27.9,1830,28.1,2680,28.4,3050,28.6,2080,28.9,1760,29.15,2450,29.4,2720,29.6,1980,29.9,2350,
30.1,2960,30.4,1680,30.6,2190,30.9,2620,31.15,3080,31.4,1870,31.6,2400,31.9,2150,32.1,1740,32.4,2860,
32.6,2270,32.9,1950,33.15,2990,33.4,2530,33.6,1630,33.9,2100,34.1,2740,34.4,2320,34.6,1810,34.9,2910,
35.15,2040,35.4,2470,35.6,3040,35.9,1700,36.1,2590,36.4,2200,36.6,1920,36.9,2830,37.15,2390,37.4,1650,
37.6,2670,37.9,2970,38.1,2060,38.4,1790,38.6,2430,38.9,2890,39.15,2250,39.4,1620,39.6,2560,39.9,2090,
40.1,3010,40.4,1880,40.6,2300,40.9,2710,41.15,1730,41.4,2490,41.6,2940,41.9,2170,42.1,1990,42.4,2620,
42.6,1660,42.9,2800,43.15,2350,43.4,3060,43.6,1840,43.9,2440,44.1,2130,44.4,1710,44.6,2900,44.9,2580,
45.15,2010,45.4,1770,45.6,2690,45.9,3030,46.1,2260,46.4,1900,46.6,2470,46.9,2160,47.15,1640,47.4,2850,
47.6,2380,47.9,1950,48.1,2730,48.4,3000,48.6,2070,48.9,1820,49.15,2590,49.4,2310,49.6,2960,49.9,1680];

const p2Blue = [15.4,370,23.5,1130,30.1,600,46.2,245,
0.0,48,0.2,16,0.6,21,0.9,13,1.1,25,1.5,18,1.8,11,2.0,23,2.4,15,2.7,20,2.9,12,3.3,26,3.6,17,3.8,22,4.2,10,4.5,19,4.7,24,5.1,14,5.4,21,5.6,16,
6.0,27,6.3,12,6.5,18,6.9,23,7.2,15,7.4,20,7.8,11,8.1,25,8.3,17,8.7,13,9.0,22,9.2,19,9.6,10,9.9,24,10.1,16,10.5,21,10.8,14,11.0,26,11.4,18,11.7,12,
11.9,23,12.3,15,12.6,20,12.8,11,13.2,25,13.5,17,13.7,22,14.1,13,14.4,19,14.6,24,15.0,10,15.3,21,15.5,16,15.9,27,16.2,14,16.4,18,16.8,23,17.1,12,17.3,20,17.7,15,
18.0,25,18.2,11,18.6,19,18.9,22,19.1,17,19.5,13,19.8,24,20.0,16,20.4,21,20.7,10,20.9,26,21.3,18,21.6,14,21.8,23,22.2,12,22.5,20,22.7,15,23.1,25,23.4,17,23.6,11,
24.0,22,24.3,19,24.5,13,24.9,24,25.2,16,25.4,21,25.8,10,26.1,27,26.3,14,26.7,18,27.0,23,27.2,12,27.6,20,27.9,15,28.1,25,28.5,11,28.8,19,29.0,22,29.4,17,29.7,13,
29.9,24,30.3,16,30.6,21,30.8,10,31.2,26,31.5,18,31.7,14,32.1,23,32.4,12,32.6,20,33.0,15,33.3,25,33.5,17,33.9,11,34.2,22,34.4,19,34.8,13,35.1,24,35.3,16,35.7,21,
36.0,10,36.2,27,36.6,14,36.9,18,37.1,23,37.5,12,37.8,20,38.0,15,38.4,25,38.7,11,38.9,19,39.3,22,39.6,17,39.8,13,40.2,24,40.5,16,40.7,21,41.1,10,41.4,26,41.6,18,
42.0,14,42.3,23,42.5,12,42.9,20,43.2,15,43.4,25,43.8,17,44.1,11,44.3,22,44.7,19,45.0,13,45.2,24,45.6,16,45.9,21,46.1,10,46.5,27,46.8,14,47.0,18,47.4,23,47.7,12,
47.9,20,48.3,15,48.6,25,48.8,11,49.2,19,49.5,22,49.7,17,50.0,13];

const p3Green = [0.1,2700,0.6,2540,1.1,1630,1.6,2680,2.1,2950,2.6,2867,3.1,3060,3.6,2790,4.1,2510,4.6,2241,5.0,2677,5.5,2292,6.1,1624,6.6,1865,7.1,3044,7.6,1738,8.1,2592,8.6,2097,9.1,2981,9.6,2292,
10.2,2021,10.6,2956,11.1,2740,11.6,2046,12.1,2790,12.7,2368,13.1,2190,13.6,2689,14.1,1996,14.6,1598,15.1,3091,15.6,2482,16.2,2892,16.7,2905,17.2,2867,17.7,2550,18.2,2021,18.8,1662,19.2,2943,19.7,2622,
20.2,2943,20.7,2406,21.2,2148,21.7,3057,22.1,2211,22.7,2930,23.2,2943,23.6,1712,24.2,2342,24.7,1789,25.1,1586,25.7,1679,26.3,1958,26.7,1882,27.2,1844,27.7,2571,28.2,2638,28.7,2110,29.2,2778,29.7,3032,
30.2,2778,30.8,2765,31.3,1632,31.8,1750,32.3,2279,32.8,2254,33.4,3082,33.8,2765,34.3,2740,34.8,2279,35.2,1767,35.7,1805,36.2,2753,36.7,2368,37.2,1932,37.7,3006,38.2,2161,38.6,1598,39.1,2778,39.7,2211,
40.2,3032,40.7,2584,41.2,2393,41.7,2867,42.2,2537,42.7,1996,43.3,2059,43.8,2867,44.3,2123,44.8,2537,45.3,1598,45.8,1894,46.3,2304,46.8,2715,47.3,2753,47.8,2626,48.3,2072,48.8,2753,49.3,1894];

const p3Red = [0.1,2700,0.6,3032,1.1,2943,1.6,2753,2.1,2892,2.6,2867,3.1,2097,3.6,2753,4.1,2753,4.6,2110,5.0,2584,5.5,2059,6.1,3082,6.6,1932,7.1,2867,7.6,1865,8.1,2622,8.6,1598,9.1,1789,9.6,2545,
10.2,2790,10.6,2482,11.1,2072,11.6,1738,12.1,2677,12.7,2930,13.1,2943,13.6,2765,14.1,5302,14.6,2867,15.1,2406,15.6,1763,16.1,2304,16.7,3057,17.2,2677,17.7,1598,18.2,2211,18.8,2981,19.2,1750,19.7,1598,
20.2,1894,20.7,2123,21.2,1636,21.7,1894,22.1,2537,22.7,4152,23.2,2638,23.6,2393,24.2,1996,24.7,1624,25.1,1996,25.7,2368,26.3,3044,26.7,2956,27.2,2715,27.7,2867,28.2,2740,28.7,1844,29.2,2905,29.7,2292,
30.2,2626,30.8,1882,31.3,2046,31.8,3006,32.3,2021,32.8,1598,33.4,2241,33.8,2211,34.2,2584,34.8,2148,35.2,2342,35.7,3497,36.2,2186,36.7,2292,37.2,2740,37.7,2778,38.2,2943,38.6,2765,39.1,1679,39.7,1805,
40.2,2778,40.7,2943,41.2,3032,41.7,3070,42.2,2689,42.7,2790,43.3,2571,43.8,1958,44.3,2537,44.8,2507,45.3,2537,45.8,2279,46.3,1712,46.8,3844,47.3,1662,47.8,2778,48.3,3082,48.8,1636,49.3,2279];

const p3Blue = [2.1,355,2.6,3129,4.1,2558,4.6,1044,6.6,4101,7.1,1023,11.6,1416,12.1,867,15.1,3129,19.7,1366,23.6,664,26.2,1353,32.8,2457,33.8,5953,34.2,304,40.7,431,42.2,1006,42.7,1112,43.8,1882,44.8,1416,45.3,626,46.3,444,
0.0,17,1.6,17,3.1,17,3.6,17,5.0,17,5.5,17,6.1,17,7.6,17,8.1,17,8.6,17,9.1,17,9.6,34,10.2,34,10.6,17,11.1,34,12.7,34,13.1,17,13.6,17,14.1,17,14.6,17,
15.6,34,16.1,34,16.7,17,17.2,17,17.7,17,18.2,17,18.7,17,19.2,17,20.2,34,20.7,17,21.2,17,21.7,17,22.1,17,22.7,17,23.2,17,24.1,17,24.6,17,25.1,17,25.7,17,26.7,34,
27.2,17,27.7,17,28.2,34,28.7,17,29.2,17,29.7,17,30.2,34,30.8,17,31.3,17,31.8,34,32.3,34,33.4,17,34.7,17,35.2,17,35.7,17,36.2,34,36.7,17,37.2,17,37.7,17,38.2,34,
38.6,17,39.1,17,39.6,17,40.2,17,41.2,17,41.7,34,43.2,17,44.3,34,45.8,17,46.8,34,47.3,17,47.8,17,48.3,17,48.8,17,49.3,17];

const p4Green = [0.0,3755,0.5,3937,0.9,3873,1.4,3484,1.9,4241,2.5,4461,2.9,3345,3.5,3767,4.0,3214,4.5,3636,4.9,4575,5.4,3848,5.9,4089,6.4,3264,6.9,3370,7.4,3624,7.9,3484,8.4,3949,8.9,4681,9.4,3370,
9.9,3328,10.4,4575,10.8,3573,11.4,4013,11.8,4385,12.3,4165,12.9,4038,13.4,4127,13.8,4228,14.3,4063,14.9,4575,15.3,3510,15.8,3899,16.3,3226,16.7,3163,17.2,4359,17.8,4550,18.3,3674,18.8,4152,19.4,4051,
19.8,3700,20.3,4114,20.8,4334,21.3,3214,21.8,4537,22.3,4271,22.8,3624,23.3,3586,23.8,3332,24.3,4499,24.8,3471,25.2,3636,25.7,3717,26.2,3962,26.7,3535,27.2,4499,27.7,4271,28.2,4114,28.7,3987,29.1,3201,
29.6,3662,30.2,4372,30.6,3649,31.1,4550,31.6,4550,32.1,3163,32.6,3844,33.1,3378,33.6,3755,34.1,4588,34.6,3949,35.2,3704,35.6,4025,36.1,4681,36.6,4461,37.1,4512,37.6,3937,38.1,3882,38.6,3416,39.1,4203,
39.6,4000,40.2,3302,40.6,3125,41.2,4000,41.7,3573,42.2,3611,42.7,3340,43.2,3163,43.7,3755,44.2,3987,44.7,3611,45.2,4461,45.7,4089,46.2,3277,46.7,4076,47.3,3328,47.8,3340,48.3,3717,48.8,4550,49.3,4512];

const p4Red = [0.0,4550,0.5,3302,0.9,4588,1.4,4550,1.9,3899,2.5,3163,2.9,4063,3.5,3332,4.0,3188,4.5,3987,4.9,3484,5.4,4550,5.9,4575,6.4,4512,6.9,3573,7.4,3264,7.9,3226,8.4,3755,8.9,3471,9.4,3649,
9.9,4385,10.4,3510,10.8,3717,11.4,4038,11.8,4575,12.3,3624,12.9,4089,13.4,3755,13.8,5865,14.3,3700,14.9,4127,15.3,3937,15.8,3277,16.3,4334,16.7,3484,17.2,3611,17.8,3214,18.3,3674,18.8,4550,19.4,3421,
19.8,4512,20.3,3987,20.8,3163,21.3,4089,21.8,4461,22.3,4537,22.8,4114,23.3,4000,23.8,3340,24.3,3163,24.8,4228,25.2,3125,25.7,3340,26.2,4575,26.7,4076,27.2,4271,27.7,4114,28.2,4499,28.7,3340,29.1,3366,
29.6,3328,30.2,3949,30.6,4013,31.1,3844,31.6,4550,32.1,4461,32.6,4241,33.1,3962,33.6,4372,34.1,4000,34.6,4461,35.1,3214,35.6,4499,36.1,4486,36.6,3366,37.1,3636,37.6,3378,38.1,3201,38.6,4051,39.1,4359,
39.6,3535,40.2,4025,40.6,3573,41.2,3586,41.7,3662,42.2,3755,42.7,4152,43.2,3704,43.7,4271,44.2,3328,44.7,3937,45.2,3175,45.7,3611,46.2,3949,46.7,3873,47.3,5522,47.8,3226,48.3,4203,48.8,3624,49.3,3717];

const p4Blue = [0.4,1915,1.9,1416,2.4,2545,3.5,2968,4.4,1966,7.9,753,9.4,1302,10.4,2034,13.8,4486,15.8,596,18.8,2008,20.8,1226,23.8,292,24.3,512,25.2,677,29.1,2753,31.1,228,34.6,5522,35.1,3624,36.1,1763,
39.1,520,41.7,2968,42.2,3404,45.1,2545,45.7,3624,46.1,152,
0.0,17,0.9,17,1.4,17,2.9,40,4.0,17,4.9,40,5.4,17,5.9,40,6.4,40,6.9,17,7.4,17,8.4,40,8.9,17,9.8,17,10.8,17,11.3,40,11.8,17,12.3,17,12.9,40,13.4,17,
14.3,17,14.9,17,15.3,17,16.3,40,16.7,45,17.2,45,17.8,17,18.3,17,19.4,17,19.8,17,20.3,17,21.3,72,21.8,17,22.3,17,22.8,17,23.3,17,24.7,40,25.7,17,26.2,17,26.7,17,
27.1,17,27.7,17,28.2,17,28.6,17,29.6,17,30.1,17,30.6,17,31.6,17,32.1,40,32.5,17,33.1,17,33.6,17,34.1,17,35.6,17,36.6,17,37.1,17,37.6,17,38.1,17,38.6,17,39.6,17,
40.1,17,40.6,17,41.1,17,42.7,17,43.2,17,43.7,17,44.2,17,44.7,17,46.7,17,47.2,17,47.8,17,48.3,17,48.7,17,49.2,17];

// ---------- styling ----------
const colors = ["#00a64b", "#ff1a1a", "#2f63e6"];
const opacities = [0.97, 0.68, 0.85];
const lineColor = "#00aa44";

function rows(flat) {
  const out = [];
  for (let i = 0; i < flat.length; i += 2) out.push({t: flat[i], d: flat[i + 1]});
  return out;
}

const panels = [
  {title: titles[0], series: [p1Green.concat(p1GreenMore), p1Red.concat(p1RedMore), p1Blue], bounds: bounds1, yMax: yMaxTop, yTicks: yTicksTop, left: 0, top: 0, ml: 202, mt: 84, mb: 139, r: 8.5},
  {title: titles[1], series: [p2Green.concat(p2GreenMore), p2Red.concat(p2RedMore), p2Blue], bounds: bounds2, yMax: yMaxTop, yTicks: yTicksTop, left: 1990, top: 0, ml: 201, mt: 84, mb: 139, r: 8.5},
  {title: titles[2], series: [p3Green, p3Red, p3Blue], bounds: bounds3, yMax: yMaxBottom, yTicks: yTicksBottom, left: 0, top: 1489, ml: 202, mt: 80, mb: 140, r: 6.5},
  {title: titles[3], series: [p4Green, p4Red, p4Blue], bounds: bounds4, yMax: yMaxBottom, yTicks: yTicksBottom, left: 1990, top: 1489, ml: 201, mt: 80, mb: 140, r: 6.5}
];

const fig = document.getElementById("fig");
const W = 1990, H = 1489, MR = 34;

for (const p of panels) {
  const div = document.createElement("div");
  div.className = "panel";
  div.style.left = p.left + "px";
  div.style.top = p.top + "px";
  const marks = [
    Plot.gridX(xTicks, {stroke: "#b4b4b4", strokeOpacity: 0.6, strokeWidth: 2, strokeDasharray: "8,5"}),
    Plot.gridY(p.yTicks, {stroke: "#b4b4b4", strokeOpacity: 0.6, strokeWidth: 2, strokeDasharray: "8,5"})
  ];
  p.series.forEach((s, i) => {
    marks.push(Plot.dot(rows(s), {x: "t", y: "d", r: p.r, fill: colors[i], fillOpacity: opacities[i], clip: true}));
  });
  marks.push(
    Plot.ruleY([p.bounds[0]], {stroke: lineColor, strokeWidth: 4, strokeDasharray: "19,9"}),
    Plot.ruleY([p.bounds[1]], {stroke: lineColor, strokeWidth: 4, strokeDasharray: "32,9,5,9"}),
    Plot.axisX(xTicks, {tickSize: 12, tickPadding: 20, fontSize: 32, strokeWidth: 3, tickFormat: "d", label: null}),
    Plot.axisY(p.yTicks, {tickSize: 12, tickPadding: 17, fontSize: 32, strokeWidth: 3, tickFormat: "d", label: null}),
    Plot.frame({stroke: "#000", strokeWidth: 3}),
    Plot.text([p.title], {text: d => d, frameAnchor: "top", lineAnchor: "bottom", dy: -22, fontSize: 46, fill: "#000"}),
    Plot.text([xLabel], {text: d => d, frameAnchor: "bottom", lineAnchor: "bottom", dy: 113, fontSize: 45, fill: "#000"}),
    Plot.text([yLabel], {text: d => d, frameAnchor: "left", rotate: -90, dx: -156, fontSize: 45, fill: "#000"})
  );
  const svg = Plot.plot({
    width: W, height: H,
    marginLeft: p.ml, marginRight: MR, marginTop: p.mt, marginBottom: p.mb,
    x: {domain: [0, 50]},
    y: {domain: [0, p.yMax]},
    style: {fontFamily: "'DejaVu Sans', sans-serif", background: "white", color: "#000", overflow: "visible"},
    marks
  });
  div.appendChild(svg);

  // legend overlay (upper-left inside the axes)
  const lg = document.createElement("div");
  lg.className = "legend";
  lg.style.left = (p.ml + 22) + "px";
  lg.style.top = (p.mt + 22) + "px";
  const dotY = [40, 105, 173], textTop = [13, 80, 146];
  seriesNames.forEach((name, i) => {
    const sw = document.createElement("div");
    sw.className = "sw";
    sw.style.background = colors[i];
    sw.style.opacity = opacities[i];
    sw.style.left = (58 - 2 - 6.5) + "px";
    sw.style.top = (dotY[i] - 2 - 6.5) + "px";
    lg.appendChild(sw);
    const lb = document.createElement("div");
    lb.className = "lb";
    lb.textContent = name;
    lb.style.left = (132 - 2) + "px";
    lb.style.top = (textTop[i] - 2) + "px";
    lg.appendChild(lb);
  });
  div.appendChild(lg);
  fig.appendChild(div);
}
</script></body></html>
